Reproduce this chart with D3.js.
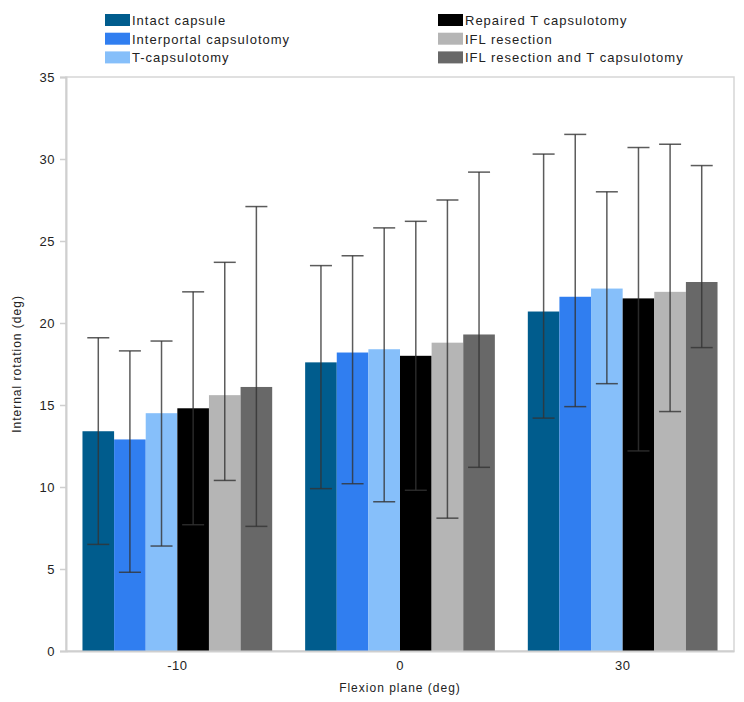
<!DOCTYPE html>
<html lang="en">
<head>
    <meta charset="UTF-8" />
    <title>Internal rotation</title>
    <script src="https://cdn.jsdelivr.net/npm/d3@7"></script>
    <style>
        body { margin: 0; background: #fff; }
        text { font-family: "Liberation Sans", Arial, sans-serif; }
    </style>
</head>
<body>
<script>
    // data
    const planes = ["-10", "0", "30"];
    const conditions = ["Intact capsule", "Interportal capsulotomy", "T-capsulotomy",
        "Repaired T capsulotomy", "IFL resection", "IFL resection and T capsulotomy"];
    const colors = ["#005c8d", "#307ef0", "#86bffa", "#000000", "#b5b5b5", "#686868"];

    // one array per condition, values for -10, 0, 30
    const means = [
        [13.4, 17.6, 20.7],
        [12.9, 18.2, 21.6],
        [14.5, 18.4, 22.1],
        [14.8, 18.0, 21.5],
        [15.6, 18.8, 21.9],
        [16.1, 19.3, 22.5]
    ];
    const upper = [
        [19.1, 23.5, 30.3],
        [18.3, 24.1, 31.5],
        [18.9, 25.8, 28.0],
        [21.9, 26.2, 30.7],
        [23.7, 27.5, 30.9],
        [27.1, 29.2, 29.6]
    ];
    const lower = [
        [6.5, 9.9, 14.2],
        [4.8, 10.2, 14.9],
        [6.4, 9.1, 16.3],
        [7.7, 9.8, 12.2],
        [10.4, 8.1, 14.6],
        [7.6, 11.2, 18.5]
    ];
    const yTicks = [0, 5, 10, 15, 20, 25, 30, 35];

    let w = 744, h = 702;
    let margin = { left: 66, right: 10, top: 77, bottom: 51 };

    let svg = d3.select("body").append("svg")
        .attr("width", w)
        .attr("height", h);

    let x0 = d3.scaleBand()
        .domain(planes)
        .range([margin.left, w - margin.right])
        .paddingInner(0.148)
        .paddingOuter(0.074);

    let x1 = d3.scaleBand()
        .domain(d3.range(conditions.length))
        .range([0, x0.bandwidth()]);

    let y = d3.scaleLinear()
        .domain([0, 35])
        .range([h - margin.bottom, margin.top]);

    // frame
    svg.append("rect")
        .attr("x", margin.left)
        .attr("y", margin.top)
        .attr("width", w - margin.left - margin.right)
        .attr("height", h - margin.top - margin.bottom)
        .attr("fill", "none")
        .attr("stroke", "#d6d6d6")
        .attr("stroke-width", 1.5);

    // bars
    let rows = [];
    conditions.forEach((c, i) => {
        planes.forEach((p, j) => {
            rows.push({ c: i, p: p, v: means[i][j], hi: upper[i][j], lo: lower[i][j] });
        });
    });

    svg.append("g").selectAll("rect")
        .data(rows)
        .enter().append("rect")
        .attr("x", d => x0(d.p) + x1(d.c))
        .attr("y", d => y(d.v))
        .attr("width", x1.bandwidth())
        .attr("height", d => y(0) - y(d.v))
        .attr("fill", d => colors[d.c]);

    // error bars
    let eb = svg.append("g")
        .attr("stroke", "#333")
        .attr("stroke-opacity", 0.8)
        .attr("stroke-width", 1.5);
    let cx = d => x0(d.p) + x1(d.c) + x1.bandwidth() / 2;
    eb.selectAll(".v").data(rows).enter().append("line")
        .attr("x1", cx).attr("x2", cx)
        .attr("y1", d => y(d.hi)).attr("y2", d => y(d.lo));
    eb.selectAll(".t").data(rows).enter().append("line")
        .attr("x1", d => cx(d) - 11).attr("x2", d => cx(d) + 11)
        .attr("y1", d => y(d.hi)).attr("y2", d => y(d.hi));
    eb.selectAll(".b").data(rows).enter().append("line")
        .attr("x1", d => cx(d) - 11).attr("x2", d => cx(d) + 11)
        .attr("y1", d => y(d.lo)).attr("y2", d => y(d.lo));

    // y axis
    let yAxis = svg.append("g")
        .attr("transform", "translate(" + margin.left + ",0)")
        .call(d3.axisLeft(y).tickValues(yTicks).tickSize(6).tickPadding(5));
    yAxis.select(".domain").attr("stroke", "#cfcfcf").attr("stroke-width", 2);
    yAxis.selectAll(".tick line").attr("stroke", "#cfcfcf").attr("stroke-width", 1.5);
    yAxis.selectAll(".tick text")
        .attr("font-size", 13)
        .attr("letter-spacing", 0.5)
        .attr("fill", "#222");

    // x axis
    let xAxis = svg.append("g")
        .attr("transform", "translate(0," + y(0) + ")")
        .call(d3.axisBottom(x0).tickSize(0).tickPadding(10));
    xAxis.select(".domain").attr("stroke", "#cfcfcf").attr("stroke-width", 2);
    xAxis.selectAll(".tick text")
        .attr("font-size", 13)
        .attr("letter-spacing", 0.5)
        .attr("fill", "#222");

    // axis titles
    svg.append("text")
        .attr("transform", "translate(17," + ((margin.top + y(0)) / 2) + ") rotate(-90)")
        .attr("text-anchor", "middle")
        .attr("dy", "0.35em")
        .attr("font-size", 12)
        .attr("letter-spacing", 1)
        .attr("fill", "#222")
        .text("Internal rotation (deg)");

    svg.append("text")
        .attr("x", (margin.left + w - margin.right) / 2)
        .attr("y", 692)
        .attr("text-anchor", "middle")
        .attr("font-size", 12)
        .attr("letter-spacing", 1)
        .attr("fill", "#222")
        .text("Flexion plane (deg)");

    // legend
    let legend = svg.append("g").selectAll("g")
        .data(conditions)
        .enter().append("g")
        .attr("transform", (d, i) => "translate(" + (i < 3 ? 105 : 438) + "," + (14 + (i % 3) * 18.7) + ")");
    legend.append("rect")
        .attr("width", 25)
        .attr("height", 12)
        .attr("fill", (d, i) => colors[i]);
    legend.append("text")
        .attr("x", 27)
        .attr("y", 11)
        .attr("font-size", 13)
        .attr("letter-spacing", 1)
        .attr("fill", "#222")
        .text(d => d);
</script>
</body>
</html>
